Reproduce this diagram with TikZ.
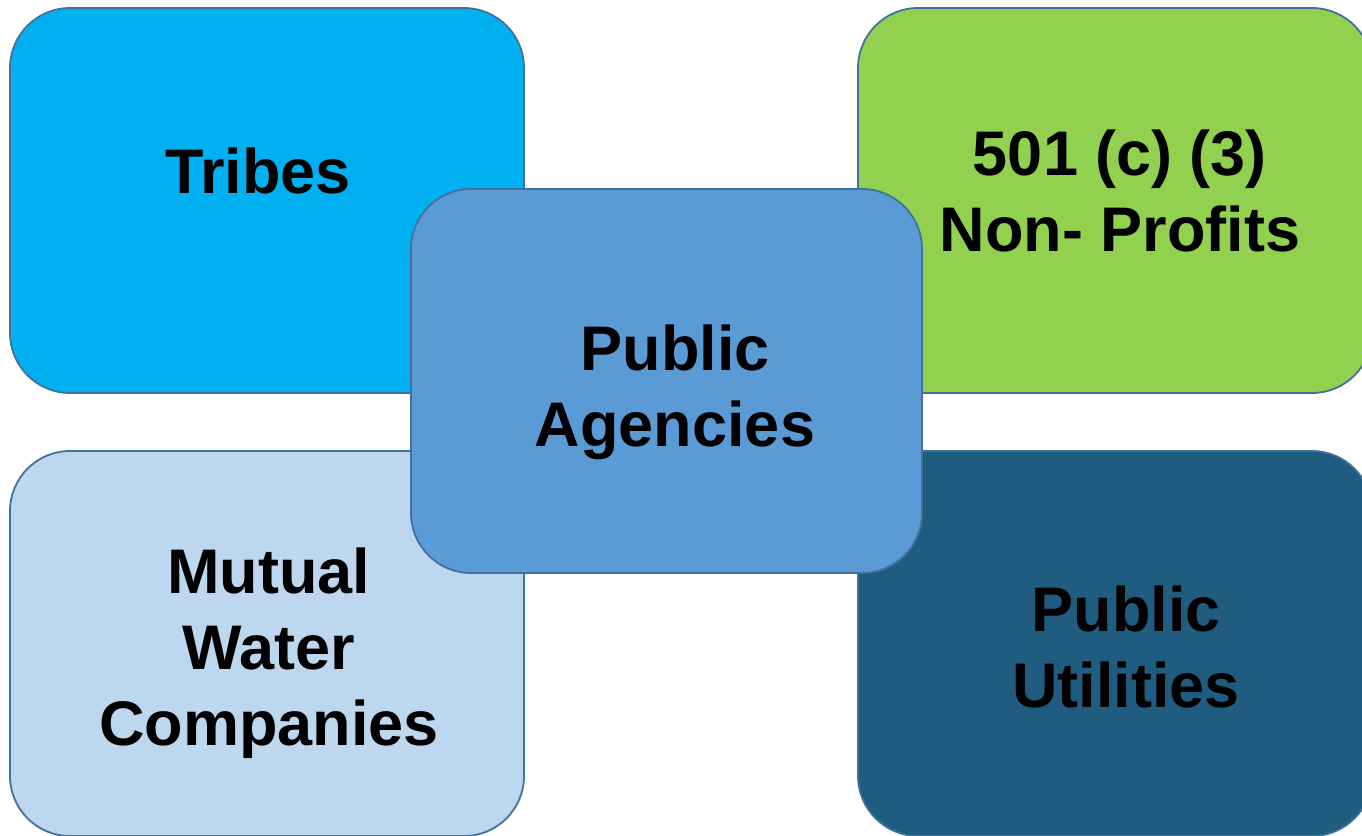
\documentclass[tikz,border=0pt]{standalone}
\usepackage{fontspec}
\setmainfont{Liberation Sans}
\definecolor{tribesc}{HTML}{00B0F0}
\definecolor{nonprofc}{HTML}{92D050}
\definecolor{mutualc}{HTML}{BDD7EE}
\definecolor{utilc}{HTML}{1F5C80}
\definecolor{agencyc}{HTML}{5B9BD5}
\definecolor{edgec}{HTML}{41719C}
\tikzset{
  card/.style={draw=edgec, line width=1.8pt, rounded corners=60pt, inner sep=0pt, outer sep=0pt, rectangle},
  outercard/.style={card, minimum width=514pt, minimum height=385pt},
  label/.style={anchor=base, align=center, inner sep=0pt, text=black, font=\fontsize{63}{76}\selectfont\bfseries}
}
\begin{document}
\begin{tikzpicture}[x=1pt,y=-1pt]
\useasboundingbox (0,0) rectangle (1362,835);
\node[outercard, fill=tribesc]   (tribes)   at (267,200.5)  {};
\node[outercard, fill=nonprofc]  (nonprof)  at (1115,200.5) {};
\node[outercard, fill=mutualc]   (mutual)   at (267,643.5)  {};
\node[outercard, fill=utilc]     (util)     at (1115,643.5) {};
\node[card, fill=agencyc, minimum width=511pt, minimum height=384pt] (agency) at (666.5,381) {};
\node[label] (tribest)   at (258,193)  {Tribes};
\node[label] (nonproft)  at (1120,251) {501 (c) (3)\\Non- Profits};
\node[label] (agencyt)   at (675,446)  {Public\\Agencies};
\node[label] (mutualt)   at (269,745)  {Mutual\\Water\\Companies};
\node[label] (utilt)     at (1126,707) {Public\\Utilities};
\end{tikzpicture}
\end{document}
